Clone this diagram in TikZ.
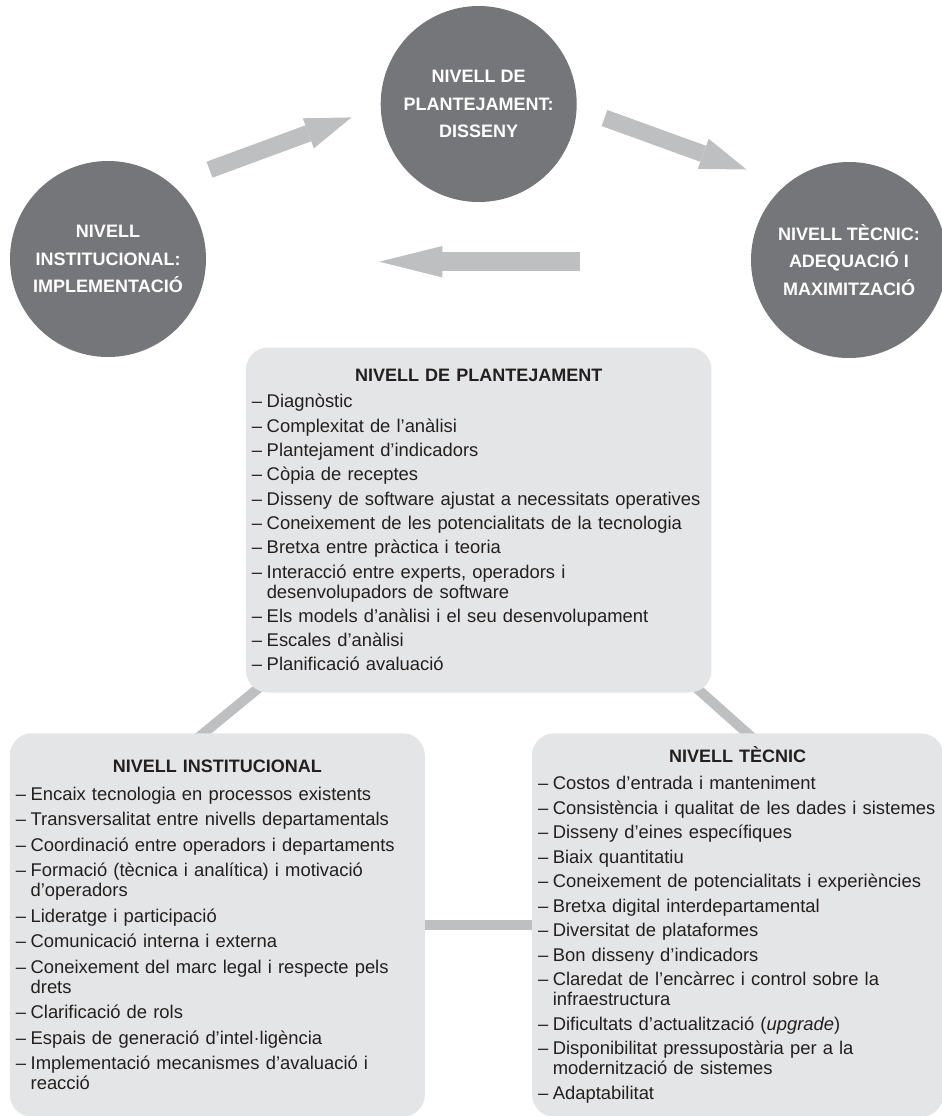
\documentclass[tikz,border=0pt]{standalone}
\usepackage{fontspec}
\setmainfont{Liberation Sans}
\usepackage{tikz}
\usetikzlibrary{arrows.meta, positioning, backgrounds}
\definecolor{circgray}{RGB}{117,118,121}
\definecolor{boxgray}{RGB}{228,229,230}
\definecolor{linkgray}{RGB}{190,191,193}
\definecolor{inkdark}{RGB}{35,31,32}
\newlength{\lvhang}\setlength{\lvhang}{7.4pt}
\newlength{\lvgap}\setlength{\lvgap}{2.3pt}
\setlength{\lineskiplimit}{-20pt}
\newcommand{\lvhead}[1]{\noindent\makebox[\linewidth]{\bfseries\fontsize{9}{10}\selectfont #1}\par\vspace{1.2pt}}
\newcommand{\lvitem}[1]{\par\vspace{\lvgap}\noindent\mbox{\makebox[\lvhang][l]{–}#1}}
\newcommand{\lvcont}[1]{\par\noindent\mbox{\hspace*{\lvhang}#1}}
\tikzset{
  levelcirc/.style={circle,fill=circgray,text=white,minimum size=98pt,inner sep=0pt,align=center,font=\fontsize{9}{13.75}\selectfont\bfseries},
  levelbox/.style={rectangle,rounded corners=11pt,fill=boxgray,text=inkdark,align=left,inner xsep=3pt,inner ysep=0pt,font=\fontsize{9.2}{10}\selectfont},
  cyclearr/.style={draw=linkgray,line width=8.5pt,-{Triangle[length=23pt,width=16pt,line width=0pt]}},
  backarr/.style={draw=linkgray,line width=9.35pt,-{Triangle[length=31.5pt,width=15.7pt,line width=0pt]}},
  link/.style={draw=linkgray,line width=5pt}
}

\begin{document}
\begin{tikzpicture}[x=0.5pt,y=-0.5pt]
  \useasboundingbox (0,0) rectangle (942,1116);
  \node[levelcirc] (plan) at (478.7,104) {NIVELL DE\\PLANTEJAMENT:\\DISSENY};
  \node[levelcirc] (inst) at (108,259) {NIVELL\\INSTITUCIONAL:\\IMPLEMENTACIÓ};
  \node[levelcirc] (tech) at (849,260) {NIVELL TÈCNIC:\\ADEQUACIÓ I\\MAXIMITZACIÓ};
  \coordinate (a1s) at (209.5,169.7); \coordinate (a1e) at (351.5,117.4);
  \coordinate (a2s) at (604.5,118);   \coordinate (a2e) at (746.5,169.5);
  \coordinate (a3s) at (580,261.7);   \coordinate (a3e) at (379.3,261.7);
  \draw[cyclearr] (a1s)--(a1e);
  \draw[cyclearr] (a2s)--(a2e);
  \draw[backarr] (a3s)--(a3e);
  \node[levelbox,below=72.35pt of plan,minimum width=232.75pt,minimum height=172.5pt,text width=226.75pt] (planbox) {\setlength{\lvgap}{2.15pt}%
    \lvhead{NIVELL DE PLANTEJAMENT}
    \lvitem{Diagnòstic}
    \lvitem{Complexitat de l’anàlisi}
    \lvitem{Plantejament d’indicadors}
    \lvitem{Còpia de receptes}
    \lvitem{Disseny de software ajustat a necessitats operatives}
    \lvitem{Coneixement de les potencialitats de la tecnologia}
    \lvitem{Bretxa entre pràctica i teoria}
    \lvitem{Interacció entre experts, operadors i}
    \lvcont{desenvolupadors de software}
    \lvitem{Els models d’anàlisi i el seu desenvolupament}
    \lvitem{Escales d’anàlisi}
    \lvitem{Planificació avaluació}};
  \node[levelbox,below=20pt of planbox.south west,xshift=-14.1pt,minimum width=207.5pt,minimum height=191.7pt,text width=201.5pt] (instbox) {\setlength{\lvgap}{2.75pt}%
    \lvhead{NIVELL INSTITUCIONAL}
    \lvitem{Encaix tecnologia en processos existents}
    \lvitem{Transversalitat entre nivells departamentals}
    \lvitem{Coordinació entre operadors i departaments}
    \lvitem{Formació (tècnica i analítica) i motivació}
    \lvcont{d’operadors}
    \lvitem{Lideratge i participació}
    \lvitem{Comunicació interna i externa}
    \lvitem{Coneixement del marc legal i respecte pels}
    \lvcont{drets}
    \lvitem{Clarificació de rols}
    \lvitem{Espais de generació d’intel·ligència}
    \lvitem{Implementació mecanismes d’avaluació i}
    \lvcont{reacció}};
  \node[levelbox,below=20pt of planbox.south east,xshift=12.9pt,minimum width=205.6pt,minimum height=191.7pt,text width=199.6pt] (techbox) {\setlength{\lvgap}{2.25pt}%
    \lvhead{NIVELL TÈCNIC}
    \lvitem{Costos d’entrada i manteniment}
    \lvitem{Consistència i qualitat de les dades i sistemes}
    \lvitem{Disseny d’eines específiques}
    \lvitem{Biaix quantitatiu}
    \lvitem{Coneixement de potencialitats i experiències}
    \lvitem{Bretxa digital interdepartamental}
    \lvitem{Diversitat de plataformes}
    \lvitem{Bon disseny d’indicadors}
    \lvitem{Claredat de l’encàrrec i control sobre la}
    \lvcont{infraestructura}
    \lvitem{Dificultats d’actualització (\textit{upgrade})}
    \lvitem{Disponibilitat pressupostària per a la}
    \lvcont{modernització de sistemes}
    \lvitem{Adaptabilitat}};
  \begin{scope}[on background layer]
    \draw[link] ([shift={(21.8,-12)}]planbox.south west)--([shift={(-23.5,8.3)}]instbox.north);
    \draw[link] ([shift={(-23.3,-12)}]planbox.south east)--([shift={(18.6,8.3)}]techbox.north);
    \draw[link] (instbox)--(techbox);
  \end{scope}
\end{tikzpicture}
\end{document}
